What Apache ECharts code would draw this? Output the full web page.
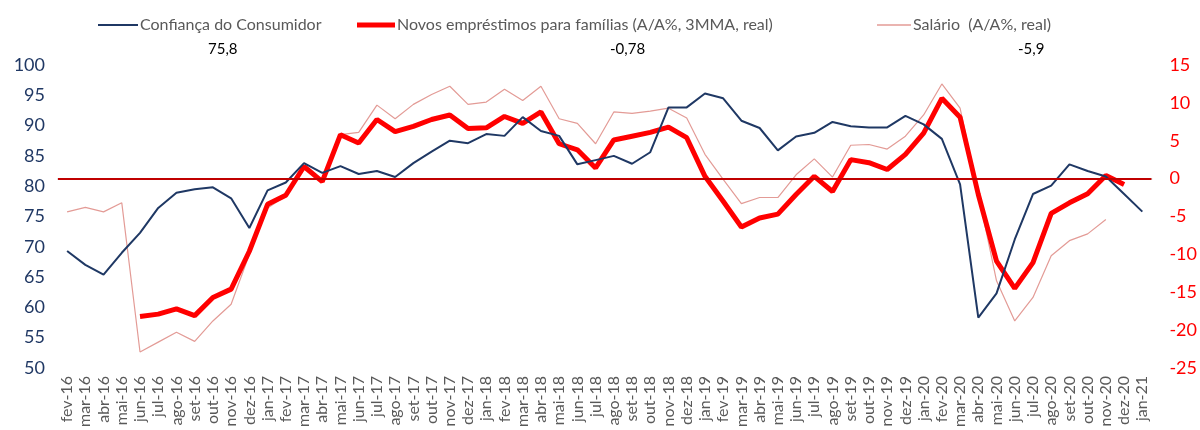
<!DOCTYPE html>
<html>
<head>
<meta charset="utf-8">
<script src="https://cdn.jsdelivr.net/npm/echarts@6/dist/echarts.min.js"></script>
<style>
  html, body { margin: 0; padding: 0; background: #fff; }
  #chart { width: 1200px; height: 430px; }
</style>
</head>
<body>
<div id="chart"></div>
<script>
var months = ['fev-16', 'mar-16', 'abr-16', 'mai-16', 'jun-16', 'jul-16', 'ago-16', 'set-16', 'out-16', 'nov-16', 'dez-16',
    'jan-17', 'fev-17', 'mar-17', 'abr-17', 'mai-17', 'jun-17', 'jul-17', 'ago-17', 'set-17', 'out-17', 'nov-17', 'dez-17',
    'jan-18', 'fev-18', 'mar-18', 'abr-18', 'mai-18', 'jun-18', 'jul-18', 'ago-18', 'set-18', 'out-18', 'nov-18', 'dez-18',
    'jan-19', 'fev-19', 'mar-19', 'abr-19', 'mai-19', 'jun-19', 'jul-19', 'ago-19', 'set-19', 'out-19', 'nov-19', 'dez-19',
    'jan-20', 'fev-20', 'mar-20', 'abr-20', 'mai-20', 'jun-20', 'jul-20', 'ago-20', 'set-20', 'out-20', 'nov-20', 'dez-20',
    'jan-21'];

// Confiança do Consumidor (eixo esquerdo)
var confianca = [69.3, 67.0, 65.4, 69.0, 72.3, 76.4, 78.9, 79.5, 79.8, 78.0, 73.1,
    79.3, 80.6, 83.8, 82.2, 83.3, 82.0, 82.5, 81.5, 83.8, 85.7, 87.5, 87.1,
    88.6, 88.3, 91.4, 89.1, 88.3, 83.6, 84.3, 85.0, 83.7, 85.6, 93.0, 93.0,
    95.3, 94.5, 90.8, 89.6, 85.9, 88.2, 88.8, 90.6, 89.9, 89.7, 89.7, 91.6,
    90.2, 87.8, 80.3, 58.3, 62.3, 71.2, 78.7, 80.1, 83.6, 82.5, 81.6, 78.7,
    75.8];

// Novos empréstimos para famílias (eixo direito)
var emprestimos = [null, null, null, null, -18.2, -17.9, -17.2, -18.1, -15.7, -14.6, -9.6,
    -3.4, -2.2, 1.6, -0.4, 5.8, 4.7, 7.8, 6.2, 6.9, 7.8, 8.4, 6.6,
    6.7, 8.2, 7.3, 8.8, 4.6, 3.8, 1.4, 5.1, 5.6, 6.1, 6.8, 5.4,
    0.3, -3.0, -6.4, -5.2, -4.7, -2.1, 0.3, -1.7, 2.5, 2.1, 1.2, 3.2,
    6.0, 10.6, 8.1, -2.1, -10.9, -14.5, -11.1, -4.6, -3.2, -2.0, 0.4, -0.78,
    null];

// Salário (eixo direito)
var salario = [-4.4, -3.8, -4.4, -3.2, -22.9, -21.6, -20.3, -21.5, -18.8, -16.6, -10.0,
    -3.9, -2.3, 1.6, -0.3, 5.8, 6.1, 9.7, 7.9, 9.8, 11.1, 12.2, 9.8,
    10.1, 11.8, 10.3, 12.2, 7.9, 7.3, 4.6, 8.8, 8.6, 8.9, 9.3, 8.0,
    3.2, -0.1, -3.3, -2.5, -2.5, 0.5, 2.6, 0.2, 4.4, 4.5, 3.9, 5.6,
    8.4, 12.5, 9.3, -2.0, -13.5, -18.8, -15.7, -10.2, -8.2, -7.3, -5.4, null,
    null];

var nomes = ['Confiança do Consumidor', 'Novos empréstimos para famílias (A/A%, 3MMA, real)', 'Salário  (A/A%, real)'];
var ultimos = ['75,8', '-0,78', '-5,9'];

var chart = echarts.init(document.getElementById('chart'));
var font = 'Lato, "Noto Sans", sans-serif';
var legendText = { fontSize: 16, color: '#595959', fontFamily: font, padding: [0, 0, 0, -3] };

var option = {
    animation: false,
    textStyle: { fontFamily: font },
    grid: { left: 58, right: 43, top: 65, bottom: 61 },
    legend: [
        { left: 93, top: 12, icon: 'rect', itemWidth: 40, itemHeight: 2, textStyle: legendText, data: [nomes[0]] },
        { left: 352, top: 12, icon: 'rect', itemWidth: 38, itemHeight: 5, textStyle: legendText, data: [nomes[1]] },
        { left: 872, top: 12, icon: 'rect', itemWidth: 34, itemHeight: 1.5, textStyle: legendText, data: [nomes[2]] }
    ],
    graphic: [
        { type: 'text', left: 208, top: 42, style: { text: ultimos[0], fontSize: 15, fill: '#000', fontFamily: font } },
        { type: 'text', left: 610, top: 42, style: { text: ultimos[1], fontSize: 15, fill: '#000', fontFamily: font } },
        { type: 'text', left: 1018, top: 42, style: { text: ultimos[2], fontSize: 15, fill: '#000', fontFamily: font } }
    ],
    xAxis: {
        type: 'category',
        data: months,
        boundaryGap: true,
        axisTick: { show: false },
        axisLine: { lineStyle: { color: '#D9D9D9', width: 2 } },
        axisLabel: { rotate: 90, interval: 0, fontSize: 16, color: '#595959', margin: 8 }
    },
    yAxis: [
        {
            type: 'value', min: 50, max: 100, interval: 5,
            splitLine: { show: false },
            axisLine: { show: false },
            axisTick: { show: false },
            axisLabel: { fontSize: 18, color: '#203864', margin: 13 }
        },
        {
            type: 'value', min: -25, max: 15, interval: 5,
            splitLine: { show: false },
            axisLine: { show: false },
            axisTick: { show: false },
            axisLabel: { fontSize: 18, color: '#FF0000', margin: 18 }
        }
    ],
    series: [
        {
            name: nomes[2],
            type: 'line',
            yAxisIndex: 1,
            data: salario,
            symbol: 'none',
            z: 1,
            lineStyle: { color: '#E39B96', width: 1.2 },
            itemStyle: { color: '#E39B96' }
        },
        {
            name: nomes[0],
            type: 'line',
            yAxisIndex: 0,
            data: confianca,
            symbol: 'none',
            z: 3,
            lineStyle: { color: '#1F3864', width: 2 },
            itemStyle: { color: '#1F3864' }
        },
        {
            name: nomes[1],
            type: 'line',
            yAxisIndex: 1,
            data: emprestimos,
            symbol: 'none',
            z: 2,
            lineStyle: { color: '#FF0000', width: 5 },
            itemStyle: { color: '#FF0000' },
            markLine: {
                silent: true,
                symbol: 'none',
                label: { show: false },
                lineStyle: { color: '#C00000', width: 2, type: 'solid' },
                data: [{ yAxis: 0 }]
            }
        }
    ]
};

chart.setOption(option);
</script>
</body>
</html>
